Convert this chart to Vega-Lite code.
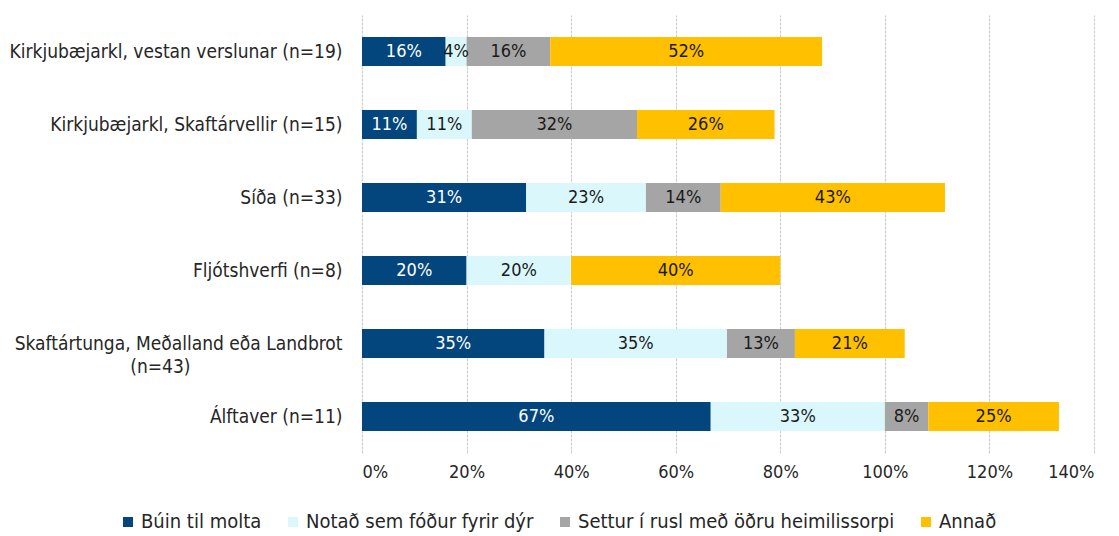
{
  "$schema": "https://vega.github.io/schema/vega-lite/v6.json",
  "width": 732,
  "height": 438,
  "autosize": {"type": "none"},
  "padding": {"left": 362, "top": 15, "right": 25, "bottom": 83},
  "background": "white",
  "config": {
    "font": "DejaVu Sans Condensed, Liberation Sans, sans-serif",
    "view": {"stroke": null}
  },
  "data": {
    "values": [
      {"cat": "Kirkjubæjarkl, vestan verslunar (n=19)", "s": "Búin til molta", "o": 1, "v": 0.16},
      {"cat": "Kirkjubæjarkl, vestan verslunar (n=19)", "s": "Notað sem fóður fyrir dýr", "o": 2, "v": 0.04},
      {"cat": "Kirkjubæjarkl, vestan verslunar (n=19)", "s": "Settur í rusl með öðru heimilissorpi", "o": 3, "v": 0.16},
      {"cat": "Kirkjubæjarkl, vestan verslunar (n=19)", "s": "Annað", "o": 4, "v": 0.52},
      {"cat": "Kirkjubæjarkl, Skaftárvellir (n=15)", "s": "Búin til molta", "o": 1, "v": 0.105},
      {"cat": "Kirkjubæjarkl, Skaftárvellir (n=15)", "s": "Notað sem fóður fyrir dýr", "o": 2, "v": 0.105},
      {"cat": "Kirkjubæjarkl, Skaftárvellir (n=15)", "s": "Settur í rusl með öðru heimilissorpi", "o": 3, "v": 0.316},
      {"cat": "Kirkjubæjarkl, Skaftárvellir (n=15)", "s": "Annað", "o": 4, "v": 0.263},
      {"cat": "Síða (n=33)", "s": "Búin til molta", "o": 1, "v": 0.314},
      {"cat": "Síða (n=33)", "s": "Notað sem fóður fyrir dýr", "o": 2, "v": 0.229},
      {"cat": "Síða (n=33)", "s": "Settur í rusl með öðru heimilissorpi", "o": 3, "v": 0.143},
      {"cat": "Síða (n=33)", "s": "Annað", "o": 4, "v": 0.429},
      {"cat": "Fljótshverfi (n=8)", "s": "Búin til molta", "o": 1, "v": 0.2},
      {"cat": "Fljótshverfi (n=8)", "s": "Notað sem fóður fyrir dýr", "o": 2, "v": 0.2},
      {"cat": "Fljótshverfi (n=8)", "s": "Annað", "o": 4, "v": 0.4},
      {"cat": "Skaftártunga, Meðalland eða Landbrot (n=43)", "s": "Búin til molta", "o": 1, "v": 0.349},
      {"cat": "Skaftártunga, Meðalland eða Landbrot (n=43)", "s": "Notað sem fóður fyrir dýr", "o": 2, "v": 0.349},
      {"cat": "Skaftártunga, Meðalland eða Landbrot (n=43)", "s": "Settur í rusl með öðru heimilissorpi", "o": 3, "v": 0.13},
      {"cat": "Skaftártunga, Meðalland eða Landbrot (n=43)", "s": "Annað", "o": 4, "v": 0.21},
      {"cat": "Álftaver (n=11)", "s": "Búin til molta", "o": 1, "v": 0.667},
      {"cat": "Álftaver (n=11)", "s": "Notað sem fóður fyrir dýr", "o": 2, "v": 0.333},
      {"cat": "Álftaver (n=11)", "s": "Settur í rusl með öðru heimilissorpi", "o": 3, "v": 0.083},
      {"cat": "Álftaver (n=11)", "s": "Annað", "o": 4, "v": 0.25}
    ]
  },
  "transform": [
    {"stack": "v", "groupby": ["cat"], "sort": [{"field": "o", "order": "ascending"}], "as": ["x0", "x1"]},
    {"calculate": "(datum.x0 + datum.x1) / 2", "as": "mid"}
  ],
  "encoding": {
    "y": {
      "field": "cat",
      "type": "nominal",
      "sort": null,
      "title": null,
      "scale": {"paddingInner": 0.6, "paddingOuter": 0.3},
      "axis": {
        "domain": false,
        "ticks": false,
        "labelFontSize": 19,
        "labelColor": "#262626",
        "labelPadding": 20,
        "labelLimit": 400,
        "labelLineHeight": 23,
        "labelExpr": "datum.value == 'Skaftártunga, Meðalland eða Landbrot (n=43)' ? ['Skaftártunga, Meðalland eða Landbrot', '(n=43)\u00a0\u00a0\u00a0\u00a0\u00a0\u00a0\u00a0\u00a0\u00a0\u00a0\u00a0\u00a0\u00a0\u00a0\u00a0\u00a0\u00a0\u00a0\u00a0\u00a0\u00a0\u00a0\u00a0\u00a0\u00a0\u00a0\u00a0\u00a0\u200b'] : datum.value"
      }
    }
  },
  "layer": [
    {
      "mark": {"type": "bar"},
      "encoding": {
        "x": {
          "field": "x0",
          "type": "quantitative",
          "title": null,
          "scale": {"domain": [0, 1.4], "nice": false},
          "axis": {
            "values": [0, 0.2, 0.4, 0.6, 0.8, 1.0, 1.2, 1.4],
            "format": ".0%",
            "domain": false,
            "ticks": false,
            "grid": true,
            "gridColor": "#D0D0D0",
            "gridWidth": 1.2,
            "gridDash": [3, 1],
            "labelFontSize": 18,
            "labelColor": "#262626",
            "labelPadding": 10
          }
        },
        "x2": {"field": "x1"},
        "color": {
          "field": "s",
          "type": "nominal",
          "scale": {
            "domain": ["Búin til molta", "Notað sem fóður fyrir dýr", "Settur í rusl með öðru heimilissorpi", "Annað"],
            "range": ["#03467D", "#DAF8FC", "#A5A5A5", "#FFC000"]
          },
          "legend": {
            "title": null,
            "orient": "none",
            "direction": "horizontal",
            "legendX": -244,
            "legendY": 497,
            "symbolType": "square",
            "symbolSize": 100,
            "symbolStrokeWidth": 0,
            "labelFontSize": 20,
            "labelColor": "#262626",
            "labelOffset": 3,
            "columnPadding": 21,
            "labelLimit": 400
          }
        }
      }
    },
    {
      "mark": {"type": "text", "fontSize": 18, "align": "center", "baseline": "middle"},
      "encoding": {
        "x": {"field": "mid", "type": "quantitative"},
        "text": {"field": "v", "type": "quantitative", "format": ".0%"},
        "color": {
          "condition": {"test": "datum.s === 'Búin til molta'", "value": "white"},
          "value": "#1a1a1a"
        }
      }
    }
  ]
}
